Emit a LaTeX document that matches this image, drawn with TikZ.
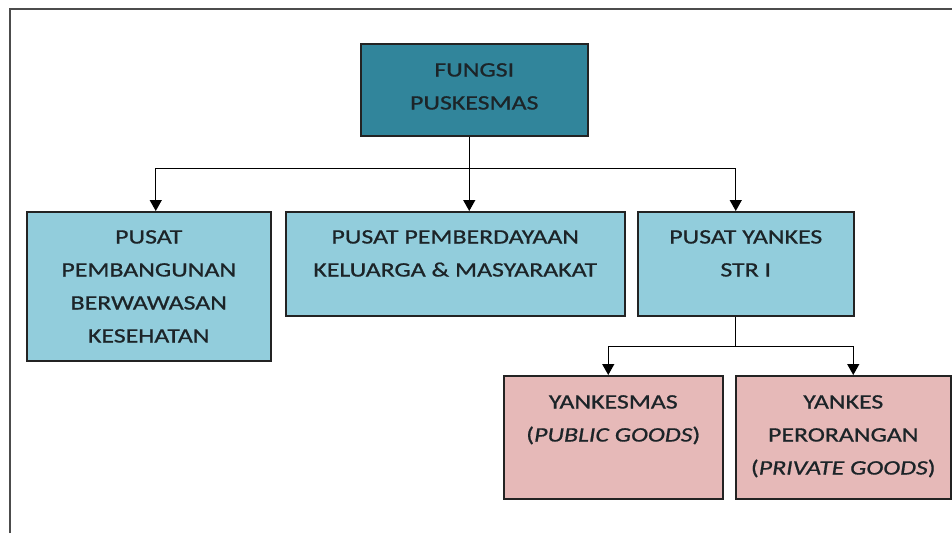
\documentclass[tikz,border=0pt]{standalone}
\usepackage{fontspec}
\setmainfont{Carlito}[FakeStretch=1.26, FakeBold=0.8]
\usetikzlibrary{arrows.meta,positioning}
\definecolor{tosca}{RGB}{49,133,155}
\definecolor{birumuda}{RGB}{146,205,220}
\definecolor{merahmuda}{RGB}{230,185,184}
\definecolor{garis}{RGB}{35,35,35}
\definecolor{tinta}{RGB}{28,36,40}
\tikzset{
  kotak/.style={draw=garis, line width=1.5pt, rectangle, inner sep=0pt, anchor=north west},
  teks/.style={align=center, font=\fontsize{20.5}{33}\selectfont, text=tinta, inner sep=0pt},
  hubung/.style={draw=black, line width=1.3pt},
  panah/.style={hubung, -{Triangle[width=12pt,length=11pt]}}
}
\begin{document}
\begin{tikzpicture}[x=1pt, y=-1pt, line join=miter]
  \useasboundingbox (0,0) rectangle (952,533);
  % bingkai luar
  \draw[line width=2pt, black!70] (10,533) -- (10,9) -- (952,9);
  % kotak-kotak
  \node[kotak, fill=tosca, minimum width=227, minimum height=92] (fungsi) at (360,43) {};
  \node[kotak, fill=birumuda, minimum width=244, minimum height=149] (pusat1) at (26,211) {};
  \node[kotak, fill=birumuda, minimum width=339, minimum height=104] (pusat2) at (285,211) {};
  \node[kotak, fill=birumuda, minimum width=216, minimum height=104] (pusat3) at (637,211) {};
  \node[kotak, fill=merahmuda, minimum width=219, minimum height=123] (yankesmas) at (503,375) {};
  \node[kotak, fill=merahmuda, minimum width=215, minimum height=123] (perorangan) at (735,375) {};
  % tulisan
  \node[teks, below=20pt of fungsi.north] (tfungsi) {FUNGSI\\PUSKESMAS};
  \node[teks, below=19pt of pusat1.north] (tpusat1) {PUSAT\\PEMBANGUNAN\\BERWAWASAN\\KESEHATAN};
  \node[teks, below=19pt of pusat2.north] (tpusat2) {PUSAT PEMBERDAYAAN\\KELUARGA \& MASYARAKAT};
  \node[teks, below=19pt of pusat3.north] (tpusat3) {PUSAT YANKES\\STR I};
  \node[teks, below=20pt of yankesmas.north] (tyankesmas) {YANKESMAS\\(\textit{PUBLIC GOODS})};
  \node[teks, below=20pt of perorangan.north] (tperorangan) {YANKES\\PERORANGAN\\(\textit{PRIVATE GOODS})};
  % garis penghubung
  \draw[hubung] ([xshift=-5pt]fungsi.south) -- ++(0,32) coordinate (cabang);
  \draw[panah] (cabang) -| ([xshift=7pt]pusat1.north);
  \draw[panah] (cabang) -- (cabang |- pusat2.north);
  \draw[panah] (cabang) -| ([xshift=-10pt]pusat3.north);
  \draw[hubung] ([xshift=-10pt]pusat3.south) -- ++(0,30) coordinate (cabang2);
  \draw[panah] (cabang2) -| ([xshift=-5pt]yankesmas.north);
  \draw[panah] (cabang2) -| ([xshift=10pt]perorangan.north);
\end{tikzpicture}
\end{document}
